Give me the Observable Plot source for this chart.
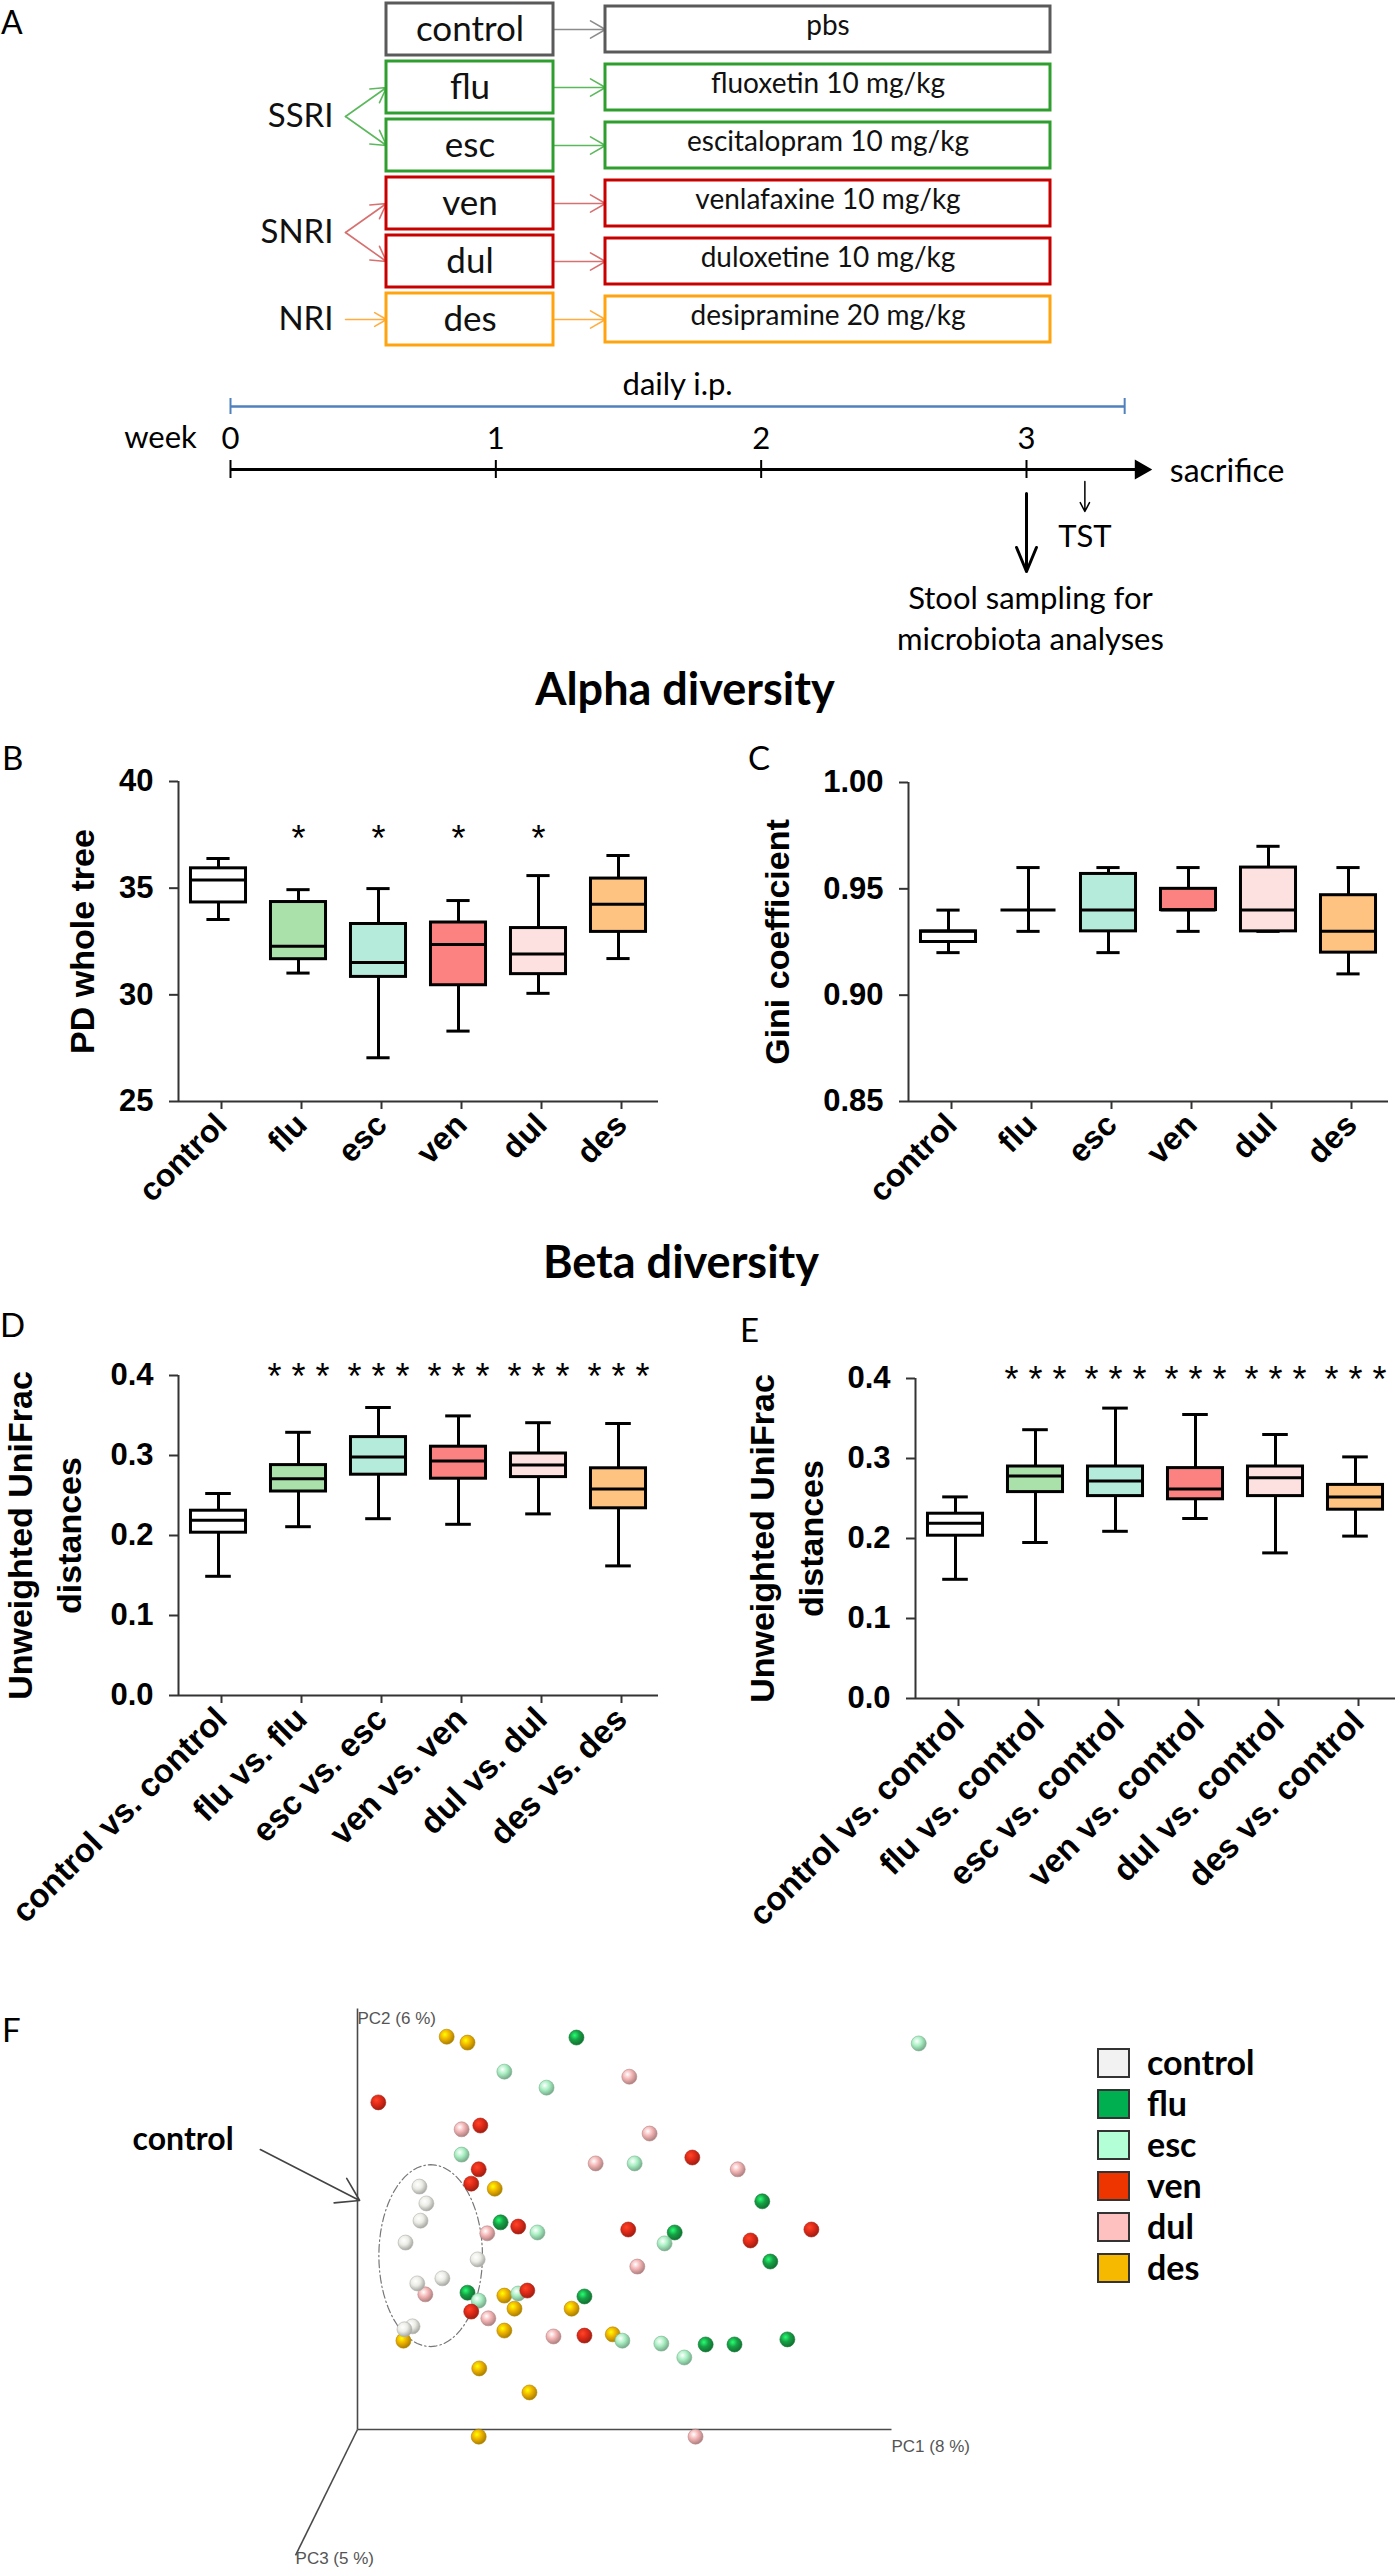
<!DOCTYPE html>
<html><head><meta charset="utf-8">
<script src="https://cdn.jsdelivr.net/npm/d3@7"></script>
<script src="https://cdn.jsdelivr.net/npm/@observablehq/plot@0.6"></script>
<style>
body{margin:0;background:#fff;}
#root{position:relative;width:1397px;height:2572px;overflow:hidden;background:#fff;color:#000;font-family:Lato,'Open Sans',sans-serif}
.lbl{position:absolute;white-space:nowrap;line-height:1}
</style></head>
<body><div id="root"></div>
<script>
// ---------------- DATA ----------------
// Panel A: design
const groups = ["control", "flu", "esc", "ven", "dul", "des"];
const drugs = ["pbs", "fluoxetin 10 mg/kg", "escitalopram 10 mg/kg", "venlafaxine 10 mg/kg", "duloxetine 10 mg/kg", "desipramine 20 mg/kg"];
const drugClasses = ["SSRI", "SNRI", "NRI"];
const drugClassGroups = [["flu", "esc"], ["ven", "dul"], ["des"]];
const weeks = [0, 1, 2, 3];
const treatmentEndWeek = 3.37;
const tstWeek = 3.22;
const stoolWeek = 3.0;

// Panel B: PD whole tree (whisker low, Q1, median, Q3, whisker high)
const pdLow  = [33.53, 31.02, 27.05, 28.30, 30.07, 31.70];
const pdQ1   = [34.33, 31.67, 30.84, 30.45, 30.97, 32.95];
const pdMed  = [35.38, 32.28, 31.52, 32.36, 31.91, 34.25];
const pdQ3   = [35.93, 34.35, 33.32, 33.39, 33.13, 35.45];
const pdHigh = [36.39, 34.93, 34.98, 34.42, 35.59, 36.53];
const pdSig  = ["", "*", "*", "*", "*", ""];
const pdSigLevel = 37.66;

// Panel C: Gini coefficient
const giniLow  = [0.920, 0.930, 0.920, 0.930, 0.930, 0.910];
const giniQ1   = [0.925, 0.940, 0.930, 0.940, 0.930, 0.920];
const giniMed  = [0.930, 0.940, 0.940, 0.940, 0.940, 0.930];
const giniQ3   = [0.930, 0.940, 0.957, 0.950, 0.960, 0.947];
const giniHigh = [0.940, 0.960, 0.960, 0.960, 0.970, 0.960];

// Panel D: within-group unweighted UniFrac distances
const withinLabels = ["control vs. control", "flu vs. flu", "esc vs. esc", "ven vs. ven", "dul vs. dul", "des vs. des"];
const dLow  = [0.149, 0.211, 0.221, 0.214, 0.227, 0.162];
const dQ1   = [0.2035, 0.255, 0.276, 0.271, 0.273, 0.234];
const dMed  = [0.219, 0.271, 0.298, 0.293, 0.288, 0.258];
const dQ3   = [0.231, 0.288, 0.323, 0.311, 0.3025, 0.284];
const dHigh = [0.2525, 0.329, 0.360, 0.3495, 0.341, 0.340];
const dSig  = ["", "* * *", "* * *", "* * *", "* * *", "* * *"];

// Panel E: distances to control
const vsControlLabels = ["control vs. control", "flu vs. control", "esc vs. control", "ven vs. control", "dul vs. control", "des vs. control"];
const eLow  = [0.149, 0.195, 0.209, 0.225, 0.182, 0.203];
const eQ1   = [0.2035, 0.258, 0.253, 0.249, 0.253, 0.236];
const eMed  = [0.219, 0.278, 0.272, 0.262, 0.276, 0.252];
const eQ3   = [0.231, 0.290, 0.290, 0.288, 0.290, 0.267];
const eHigh = [0.252, 0.336, 0.363, 0.355, 0.330, 0.302];
const eSig  = ["", "* * *", "* * *", "* * *", "* * *", "* * *"];
const distSigLevel = 0.407;

// Panel F: PCoA (projected PC1, PC2 positions as fractions of the drawn axes)
const pcDes = [[0.167,0.933],[0.206,0.919],[0.257,0.572],[0.275,0.318],[0.294,0.287],[0.401,0.287],[0.275,0.235],[0.086,0.211],[0.478,0.226],[0.228,0.145],[0.322,0.088],[0.227,-0.017]];
const pcFlu = [[0.410,0.931],[0.268,0.492],[0.594,0.468],[0.758,0.542],[0.773,0.399],[0.206,0.325],[0.425,0.316],[0.652,0.202],[0.706,0.202],[0.805,0.214]];
const pcEsc = [[1.051,0.917],[0.275,0.850],[0.354,0.812],[0.195,0.653],[0.519,0.632],[0.337,0.468],[0.575,0.442],[0.227,0.306],[0.301,0.323],[0.496,0.211],[0.569,0.204],[0.612,0.171]];
const pcVen = [[0.039,0.777],[0.230,0.722],[0.627,0.646],[0.227,0.618],[0.213,0.584],[0.301,0.482],[0.507,0.475],[0.736,0.449],[0.850,0.475],[0.318,0.330],[0.213,0.280],[0.425,0.223]];
const pcDul = [[0.509,0.838],[0.547,0.703],[0.195,0.713],[0.446,0.632],[0.712,0.618],[0.243,0.466],[0.524,0.387],[0.127,0.321],[0.245,0.264],[0.367,0.221],[0.633,-0.017]];
const pcControl = [[0.116,0.577],[0.129,0.537],[0.118,0.496],[0.090,0.444],[0.225,0.404],[0.159,0.359],[0.112,0.347],[0.103,0.245],[0.088,0.238]];
const pcAxisLabels = ["PC1 (8 %)", "PC2 (6 %)", "PC3 (5 %)"];
const pc3Direction = [-0.116, -0.299];
const controlCluster = {cx: 0.137, cy: 0.413, rx: 0.097, ry: 0.216};

// ---------------- STYLES ----------------
const rowStroke = ["#5a5a5a", "#2e9e2e", "#2e9e2e", "#c80000", "#c80000", "#ffa30f"];
const rowArrow  = ["#8c8c8c", "#5cb85c", "#5cb85c", "#d87070", "#d87070", "#ffad40"];
const classArrow = ["#5cb85c", "#d87070", "#ffad40"];
const boxFills = ["#ffffff", "#aae0aa", "#b5ebda", "#fc8282", "#fde1e1", "#fec380"];
const dotColors = {control: "#ecece6", flu: "#17a045", esc: "#a8efc2", ven: "#e02a18", dul: "#f4b4b4", des: "#efb300"};
const legendColors = ["#f2f2f2", "#00b050", "#b3ffd6", "#ee3500", "#ffc0c0", "#f7b900"];

const root = document.getElementById("root");
const ARIAL = "'Liberation Sans', Arial, sans-serif";
function addSvg(svg, left, top) {
  svg.style.position = "absolute"; svg.style.left = left + "px"; svg.style.top = top + "px";
  root.append(svg);
}
function addText(txt, x, baseline, size, weight = 400, anchor = "start", family = "Lato") {
  const d = document.createElement("div");
  d.className = "lbl"; d.textContent = txt;
  d.style.fontSize = size + "px"; d.style.fontWeight = weight; d.style.fontFamily = family;
  const asc = family === "Lato" ? 0.887 : 0.8465;
  d.style.top = (baseline - asc * size) + "px";
  if (anchor === "middle") { d.style.left = x + "px"; d.style.transform = "translateX(-50%)"; }
  else if (anchor === "end") { d.style.right = (1397 - x) + "px"; }
  else d.style.left = x + "px";
  root.append(d);
}

// ---------------- PANEL A: design boxes ----------------
const L = {leftX1: 386, leftX2: 553, rightX1: 605, rightX2: 1050, classX: 333, classArrowX: 345};
const diag = groups.map((g, i) => ({i, group: g, drug: drugs[i], stroke: rowStroke[i], arrow: rowArrow[i]}));
const classData = drugClasses.map((c, k) => {
  const idx = drugClassGroups[k].map(g => groups.indexOf(g));
  return {name: c, y: d3.mean(idx), rows: idx, color: classArrow[k]};
});
const classArrows = classData.flatMap(c => c.rows.map(r => ({y1: c.y, y2: r, color: c.color})));

const svgA = Plot.plot({
  width: 1100, height: 350, margin: 0,
  x: {domain: [0, 1100], range: [0, 1100], axis: null},
  y: {domain: [-0.5, 5.5], range: [0, 348], axis: null},
  style: {background: "transparent", overflow: "visible", fontFamily: "Lato"},
  marks: [
    Plot.arrow(diag, {x1: () => L.leftX2, x2: () => L.rightX1, y1: "i", y2: "i", stroke: "arrow", strokeWidth: 1.6, headLength: 19, headAngle: 60}),
    Plot.arrow(classArrows, {x1: () => L.classArrowX, x2: () => L.leftX1, y1: "y1", y2: "y2", stroke: "color", strokeWidth: 1.6, headLength: 17, headAngle: 60}),
    Plot.rect(diag, {x1: () => L.leftX1, x2: () => L.leftX2, y1: d => d.i - 0.5, y2: d => d.i + 0.5, insetTop: 3, insetBottom: 3, fill: "white", stroke: "stroke", strokeWidth: 3}),
    Plot.rect(diag, {x1: () => L.rightX1, x2: () => L.rightX2, y1: d => d.i - 0.5, y2: d => d.i + 0.5, insetTop: 6, insetBottom: 6, fill: "white", stroke: "stroke", strokeWidth: 3}),
    Plot.text(diag, {x: () => (L.leftX1 + L.leftX2) / 2, y: "i", text: "group", fontSize: 35, fontFamily: "Lato", fill: "#111"}),
    Plot.text(diag, {x: () => (L.rightX1 + L.rightX2) / 2, y: "i", dy: -3, text: "drug", fontSize: 28, fontFamily: "Lato", fill: "#111"}),
    Plot.text(classData, {x: () => L.classX, y: "y", text: "name", textAnchor: "end", fontSize: 33, fontFamily: "Lato", fill: "#111"})
  ]
});
addSvg(svgA, 0, 0);

// ---------------- PANEL A: timeline ----------------
const svgT = Plot.plot({
  width: 1397, height: 300, margin: 0,
  x: {domain: [0, 3], range: [230, 1026], axis: null},
  y: {domain: [0, 300], range: [0, 300], axis: null},
  style: {background: "transparent", overflow: "visible", fontFamily: "Lato"},
  marks: [
    Plot.ruleY([46], {x1: () => 0, x2: () => treatmentEndWeek, stroke: "#4f81bd", strokeWidth: 2.5}),
    Plot.ruleX([0, treatmentEndWeek], {y1: () => 38, y2: () => 54, stroke: "#4f81bd", strokeWidth: 2}),
    Plot.text(["daily i.p."], {x: () => treatmentEndWeek / 2, y: () => 25, text: d => d, fontSize: 31, fontFamily: "Lato"}),
    Plot.ruleY([109], {x1: () => 0, x2: () => 3.43, stroke: "#000", strokeWidth: 3}),
    Plot.dot([3.43], {x: d => d, y: () => 109, symbol: "triangle", r: 6.5, rotate: 90, fill: "#000", stroke: "#000"}),
    Plot.ruleX(weeks, {x: d => d, y1: () => 100, y2: () => 118, stroke: "#000", strokeWidth: 2}),
    Plot.text(weeks, {x: d => d, y: () => 79, text: d => String(d), fontSize: 31, fontFamily: "Lato"}),
    Plot.text(["week"], {x: () => -0.264, y: () => 78, text: d => d, fontSize: 31, fontFamily: "Lato"}),
    Plot.text(["sacrifice"], {x: () => 3.54, y: () => 111, text: d => d, textAnchor: "start", fontSize: 32, fontFamily: "Lato"}),
    Plot.arrow([tstWeek], {x1: d => d, x2: d => d, y1: () => 121, y2: () => 151, stroke: "#000", strokeWidth: 1.5, headLength: 13, headAngle: 55}),
    Plot.text(["TST"], {x: () => tstWeek, y: () => 177, text: d => d, fontSize: 31, fontFamily: "Lato"}),
    Plot.arrow([stoolWeek], {x1: d => d, x2: d => d, y1: () => 133, y2: () => 211, stroke: "#000", strokeWidth: 3, headLength: 16, headAngle: 45}),
    Plot.text(["Stool sampling for", "microbiota analyses"], {x: () => stoolWeek + 0.015, y: (d, i) => 239 + i * 41, text: d => d, fontSize: 31, fontFamily: "Lato"})
  ]
});
addSvg(svgT, 0, 360);

// ---------------- Box plot panels ----------------
const BOX = 0.344;
function boxPanel(cfg) {
  const data = cfg.labels.map((label, i) => ({i, label, low: cfg.low[i], q1: cfg.q1[i], med: cfg.med[i], q3: cfg.q3[i], high: cfg.high[i], fill: boxFills[i], sig: cfg.sig[i]}));
  const [y0, y1] = cfg.yDomain;
  const svg = Plot.plot({
    width: cfg.width, height: cfg.height,
    marginLeft: cfg.ml, marginRight: cfg.mr, marginTop: cfg.mt, marginBottom: cfg.mb,
    x: {domain: [-0.5, 5.5]},
    y: {domain: cfg.yDomain},
    style: {background: "transparent", overflow: "visible", fontFamily: ARIAL, color: "#000"},
    marks: [
      Plot.ruleX(data, {x: "i", y1: "low", y2: "high", stroke: "#000", strokeWidth: 3}),
      Plot.ruleY(data, {y: "high", x1: d => d.i - cfg.cap, x2: d => d.i + cfg.cap, stroke: "#000", strokeWidth: 3}),
      Plot.ruleY(data, {y: "low", x1: d => d.i - cfg.cap, x2: d => d.i + cfg.cap, stroke: "#000", strokeWidth: 3}),
      Plot.rect(data, {x1: d => d.i - BOX, x2: d => d.i + BOX, y1: "q1", y2: "q3", fill: "fill", stroke: "#000", strokeWidth: 3}),
      Plot.ruleY(data, {y: "med", x1: d => d.i - BOX, x2: d => d.i + BOX, stroke: "#000", strokeWidth: 3}),
      Plot.ruleX([-0.5], {y1: () => y0, y2: () => y1, stroke: "#333", strokeWidth: 2}),
      Plot.ruleY([y0], {x1: () => -0.5, x2: () => 5.5, stroke: "#333", strokeWidth: 2}),
      Plot.axisY({ticks: cfg.yTicks, tickFormat: cfg.yFormat, tickSize: 9, tickPadding: 16, fontSize: 31, fontWeight: "bold", fontFamily: ARIAL, stroke: "#333", strokeWidth: 2, label: null}),
      Plot.axisX({ticks: [0, 1, 2, 3, 4, 5], tickFormat: i => cfg.labels[i], tickRotate: -45, tickSize: 8, tickPadding: 10, dx: 3, fontSize: cfg.xFont, fontWeight: "bold", fontFamily: ARIAL, stroke: "#333", strokeWidth: 2, label: null}),
      Plot.text(data.filter(d => d.sig), {x: "i", y: () => cfg.sigLevel, dy: 8, text: "sig", fontSize: 36, fontFamily: ARIAL, fontWeight: "normal"}),
      Plot.text([cfg.yLabel], {frameAnchor: "left", dx: cfg.labelDx, rotate: -90, textAnchor: "middle", lineAnchor: "middle", text: d => d, fontSize: 34, fontWeight: "bold", fontFamily: ARIAL, lineHeight: 1.45})
    ]
  });
  addSvg(svg, cfg.left, cfg.top);
}

boxPanel({labels: groups, low: pdLow, q1: pdQ1, med: pdMed, q3: pdQ3, high: pdHigh, sig: pdSig, sigLevel: pdSigLevel,
  yDomain: [25, 40], yTicks: [25, 30, 35, 40], yFormat: d3.format("d"), yLabel: "PD whole tree", labelDx: -100,
  left: 0, top: 740, width: 700, height: 500, ml: 178, mr: 42, mt: 41, mb: 139, cap: 0.145, xFont: 32});
boxPanel({labels: groups, low: giniLow, q1: giniQ1, med: giniMed, q3: giniQ3, high: giniHigh, sig: ["", "", "", "", "", ""], sigLevel: 1,
  yDomain: [0.85, 1.0], yTicks: [0.85, 0.90, 0.95, 1.00], yFormat: d3.format(".2f"), yLabel: "Gini coefficient", labelDx: -135,
  left: 700, top: 740, width: 697, height: 500, ml: 208, mr: 9, mt: 42, mb: 139, cap: 0.145, xFont: 32});
boxPanel({labels: withinLabels, low: dLow, q1: dQ1, med: dMed, q3: dQ3, high: dHigh, sig: dSig, sigLevel: distSigLevel,
  yDomain: [0, 0.4], yTicks: [0, 0.1, 0.2, 0.3, 0.4], yFormat: d3.format(".1f"), yLabel: "Unweighted UniFrac\ndistances", labelDx: -138,
  left: 0, top: 1290, width: 700, height: 680, ml: 178, mr: 42, mt: 85, mb: 275, cap: 0.16, xFont: 33});
boxPanel({labels: vsControlLabels, low: eLow, q1: eQ1, med: eMed, q3: eQ3, high: eHigh, sig: eSig, sigLevel: distSigLevel,
  yDomain: [0, 0.4], yTicks: [0, 0.1, 0.2, 0.3, 0.4], yFormat: d3.format(".1f"), yLabel: "Unweighted UniFrac\ndistances", labelDx: -133,
  left: 700, top: 1290, width: 697, height: 680, ml: 215, mr: 2, mt: 88, mb: 272, cap: 0.16, xFont: 33});

// ---------------- PANEL F: PCoA ----------------
const pcSets = {des: pcDes, flu: pcFlu, esc: pcEsc, ven: pcVen, dul: pcDul, control: pcControl};
const ellipse = d3.range(0, 73).map(k => {
  const t = k / 72 * 2 * Math.PI;
  return {x: controlCluster.cx + controlCluster.rx * Math.cos(t), y: controlCluster.cy + controlCluster.ry * Math.sin(t)};
});
const axesF = [
  {x1: 0, y1: 0, x2: 1, y2: 0},
  {x1: 0, y1: 0, x2: 0, y2: 1},
  {x1: 0, y1: 0, x2: pc3Direction[0], y2: pc3Direction[1]}
];
const svgF = Plot.plot({
  width: 1397, height: 582, margin: 0,
  x: {domain: [0, 1], range: [357, 891], axis: null},
  y: {domain: [0, 1], range: [439, 18], axis: null},
  style: {background: "transparent", overflow: "visible", fontFamily: ARIAL},
  marks: [
    Plot.link(axesF, {x1: "x1", y1: "y1", x2: "x2", y2: "y2", stroke: "#4a4a4a", strokeWidth: 1.6}),
    Plot.text([pcAxisLabels[1]], {x: () => 0, y: () => 1, dy: 10, text: d => d, textAnchor: "start", fontSize: 17, fill: "#555"}),
    Plot.text([pcAxisLabels[0]], {x: () => 1, y: () => 0, dy: 17, text: d => d, textAnchor: "start", fontSize: 17, fill: "#555"}),
    Plot.text([pcAxisLabels[2]], {x: () => pc3Direction[0], y: () => pc3Direction[1], dy: 3, text: d => d, textAnchor: "start", fontSize: 17, fill: "#555"}),
    Plot.line(ellipse, {x: "x", y: "y", stroke: "#777", strokeWidth: 1.2, strokeDasharray: "8,3,1.5,3"}),
    ...Object.entries(pcSets).map(([g, pts]) =>
      Plot.dot(pts, {x: d => d[0], y: d => d[1], r: 7.5, fill: `url(#sph-${g})`, stroke: d3.color(dotColors[g]).darker(0.8).formatHex(), strokeWidth: 0.6})),
    Plot.text(["control"], {x: () => -0.232, y: () => 0.689, text: d => d, textAnchor: "end", fontSize: 32, fontWeight: "bold", fontFamily: "Lato"}),
    Plot.arrow([0], {x1: () => -0.182, y1: () => 0.665, x2: () => 0.004, y2: () => 0.544, stroke: "#444", strokeWidth: 1.6, headLength: 24, headAngle: 65})
  ]
});
{
  const ns = "http://www.w3.org/2000/svg";
  const defs = document.createElementNS(ns, "defs");
  for (const [g, c] of Object.entries(dotColors)) {
    const rg = document.createElementNS(ns, "radialGradient");
    rg.setAttribute("id", `sph-${g}`);
    rg.setAttribute("cx", "38%"); rg.setAttribute("cy", "35%"); rg.setAttribute("r", "70%");
    const stops = [[0, d3.color(c).brighter(1.4).formatHex()], [0.45, c], [1, d3.color(c).darker(1.1).formatHex()]];
    for (const [o, col] of stops) {
      const s = document.createElementNS(ns, "stop");
      s.setAttribute("offset", o); s.setAttribute("stop-color", col);
      rg.append(s);
    }
    defs.append(rg);
  }
  svgF.prepend(defs);
}
addSvg(svgF, 0, 1990);

// Legend for F
groups.forEach((g, i) => {
  const top = 2048 + i * 41;
  const sq = document.createElement("div");
  sq.style.cssText = `position:absolute;left:1097px;top:${top}px;width:29px;height:26px;background:${legendColors[i]};border:2px solid #333;`;
  root.append(sq);
  addText(g, 1147, top + 27, 34, 700, "start");
});

// Titles and panel letters
addText("Alpha diversity", 685, 706, 45, 700, "middle");
addText("Beta diversity", 681, 1279, 45, 700, "middle");
addText("A", 1, 34, 32);
addText("B", 2, 770, 33);
addText("C", 748, 770, 33);
addText("D", 0, 1337, 33);
addText("E", 740, 1342, 33);
addText("F", 2, 2042, 33);
</script>
</body></html>
